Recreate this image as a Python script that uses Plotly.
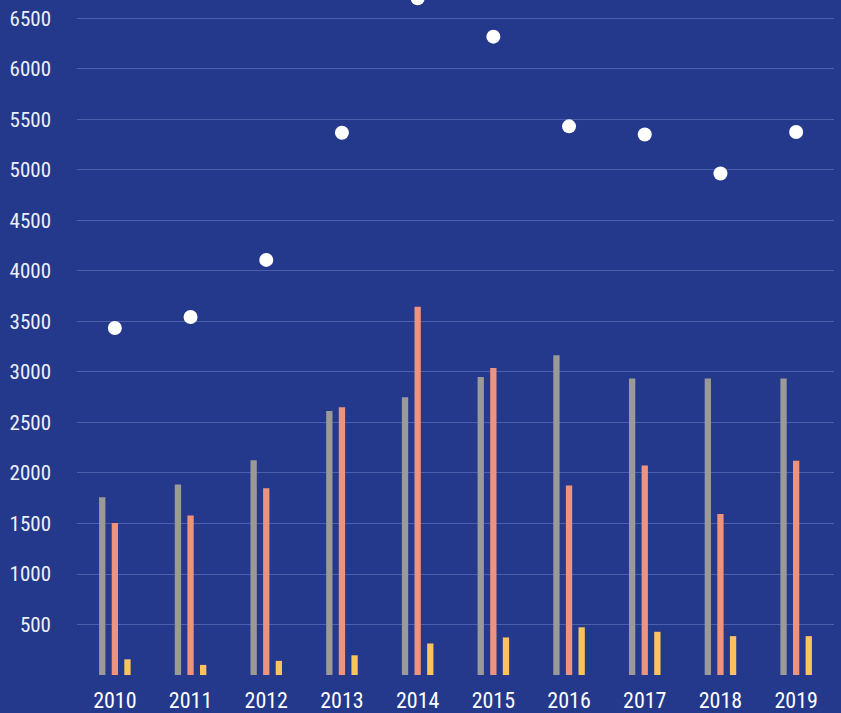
import plotly.graph_objects as go

years = ["2010", "2011", "2012", "2013", "2014", "2015", "2016", "2017", "2018", "2019"]
grey_vals = [1760, 1885, 2125, 2615, 2750, 2950, 3165, 2935, 2935, 2935]
salmon_vals = [1505, 1580, 1850, 2650, 3645, 3040, 1875, 2075, 1595, 2120]
yellow_vals = [155, 100, 140, 195, 312, 372, 472, 428, 385, 385]
dot_vals = [3435, 3545, 4110, 5368, 6700, 6320, 5432, 5352, 4965, 5376]
ytick_vals = [500, 1000, 1500, 2000, 2500, 3000, 3500, 4000, 4500, 5000, 5500, 6000, 6500]

BG = "#24398c"
FONT = "Liberation Sans Narrow, Roboto Condensed, DejaVu Sans Condensed, sans-serif"

fig = go.Figure()
for vals, col in [(grey_vals, "#9b9a96"), (salmon_vals, "#f0937c"), (yellow_vals, "#fbc35e")]:
    fig.add_trace(go.Bar(x=years, y=vals, marker=dict(color=col, line=dict(width=0)),
                         showlegend=False, hoverinfo="skip"))
fig.add_trace(go.Scatter(x=years, y=dot_vals, mode="markers",
                         marker=dict(color="white", size=14, line=dict(width=0)),
                         showlegend=False))

fig.update_layout(
    width=841, height=713,
    margin=dict(l=77, r=7, t=0, b=38),
    paper_bgcolor=BG, plot_bgcolor=BG,
    barmode="group", bargap=0.5, bargroupgap=0.5,
    font=dict(family=FONT, size=22, color="#eef0f8"),
    xaxis=dict(range=[-0.5, 9.5], showgrid=False, zeroline=False, showline=False, ticks="",
               tickfont=dict(size=22, color="#ffffff"), ticklabelstandoff=10),
    yaxis=dict(range=[0, 6683], tickvals=ytick_vals, showgrid=True,
               gridcolor="rgba(150,165,230,0.35)", gridwidth=1,
               zeroline=False, showline=False, ticks="", ticklabelstandoff=25,
               tickfont=dict(size=21, color="#eef0f8")),
)
fig.write_html("out.html")
